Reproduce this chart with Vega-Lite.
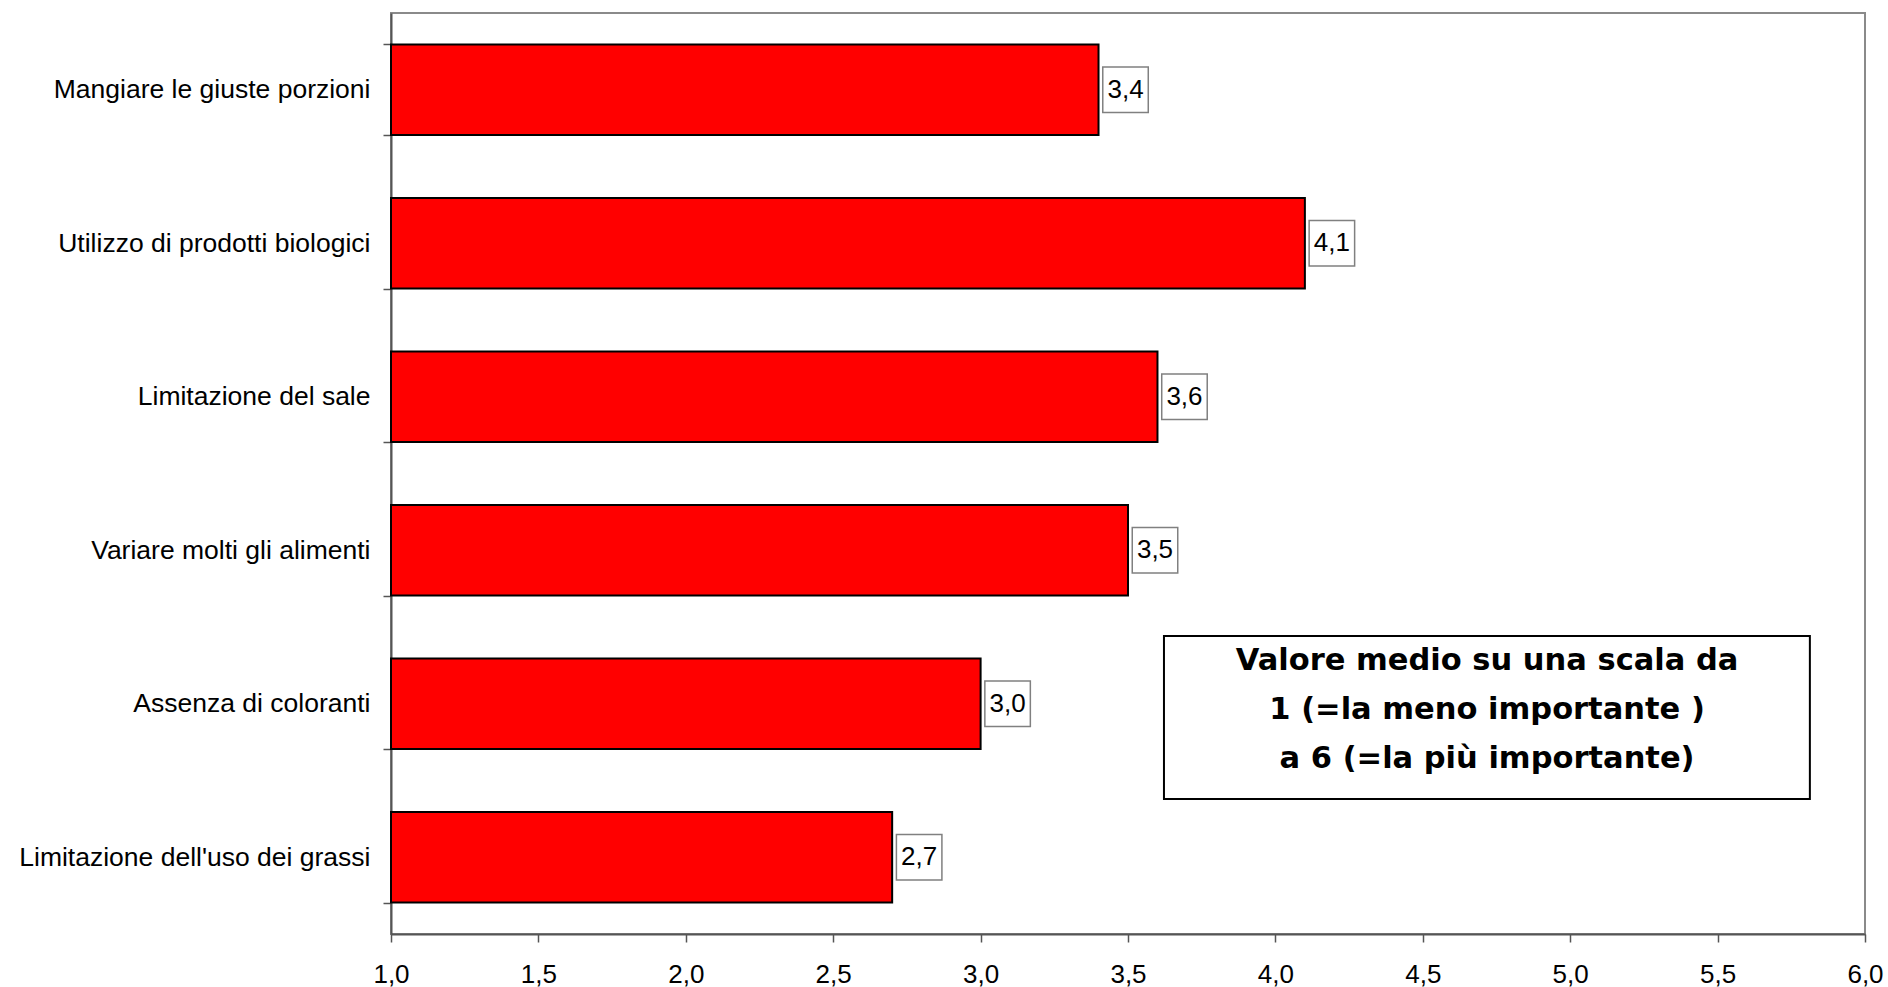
{
  "$schema": "https://vega.github.io/schema/vega-lite/v6.json",
  "width": 1474,
  "height": 921,
  "autosize": {"type": "none"},
  "padding": {"left": 391, "top": 13, "right": 23, "bottom": 53},
  "background": "white",
  "config": {
    "font": "Liberation Sans",
    "locale": {"number": {"decimal": ",", "thousands": ".", "grouping": [3], "currency": ["", " €"]}},
    "view": {"stroke": "#8a8a8a", "strokeWidth": 2},
    "axis": {
      "domainColor": "#555555",
      "domainWidth": 2,
      "tickColor": "#555555",
      "tickWidth": 1.5,
      "tickSize": 8,
      "labelColor": "black",
      "labelFont": "Liberation Sans",
      "labelFontSize": 26.5,
      "grid": false,
      "title": null
    }
  },
  "layer": [
    {
      "data": {
        "values": [
          {"voce": "Mangiare le giuste porzioni", "valore": 3.4},
          {"voce": "Utilizzo di prodotti biologici", "valore": 4.1},
          {"voce": "Limitazione del sale", "valore": 3.6},
          {"voce": "Variare molti gli alimenti", "valore": 3.5},
          {"voce": "Assenza di coloranti", "valore": 3.0},
          {"voce": "Limitazione dell'uso dei grassi", "valore": 2.7}
        ]
      },
      "encoding": {
        "y": {
          "field": "voce",
          "type": "nominal",
          "sort": null,
          "scale": {"paddingInner": 0.41, "paddingOuter": 0.205},
          "axis": {"tickBand": "extent", "labelPadding": 13, "labelLimit": 420}
        },
        "x": {
          "field": "valore",
          "type": "quantitative",
          "scale": {"domain": [1, 6], "nice": false, "zero": false},
          "axis": {"values": [1, 1.5, 2, 2.5, 3, 3.5, 4, 4.5, 5, 5.5, 6], "format": ".1f", "labelPadding": 19, "labelFontSize": 26, "labelFlush": false}
        }
      },
      "layer": [
        {
          "mark": {"type": "bar", "fill": "#ff0000", "stroke": "black", "strokeWidth": 2},
          "encoding": {"x2": {"datum": 1}}
        },
        {
          "mark": {"type": "point", "shape": "square", "size": 2070, "filled": true, "fill": "white", "stroke": "#808080", "strokeWidth": 1.5, "opacity": 1, "xOffset": 27}
        },
        {
          "mark": {"type": "text", "dx": 27, "align": "center", "baseline": "middle", "fontSize": 26, "color": "black", "font": "Liberation Sans"},
          "encoding": {"text": {"field": "valore", "type": "quantitative", "format": ".1f"}}
        }
      ]
    },
    {
      "data": {"values": [{"nota": "Valore medio su una scala da"}]},
      "layer": [
        {
          "mark": {"type": "rect", "fill": "white", "stroke": "black", "strokeWidth": 2},
          "encoding": {
            "x": {"datum": 3.622, "type": "quantitative"},
            "x2": {"datum": 5.813},
            "y": {"datum": 1.941, "type": "quantitative", "scale": {"domain": [0, 6], "nice": false}, "axis": null},
            "y2": {"datum": 0.879}
          }
        },
        {
          "mark": {
            "type": "text",
            "text": ["Valore medio su una scala da", "1 (=la meno importante  )", "a 6 (=la più importante)"],
            "font": "DejaVu Sans",
            "fontWeight": "bold",
            "fontSize": 30.5,
            "lineHeight": 49,
            "align": "center",
            "baseline": "alphabetic",
            "color": "black"
          },
          "encoding": {
            "x": {"datum": 4.718, "type": "quantitative"},
            "y": {"datum": 1.72, "type": "quantitative", "scale": {"domain": [0, 6], "nice": false}, "axis": null}
          }
        }
      ]
    }
  ],
  "resolve": {"scale": {"y": "independent"}}
}
